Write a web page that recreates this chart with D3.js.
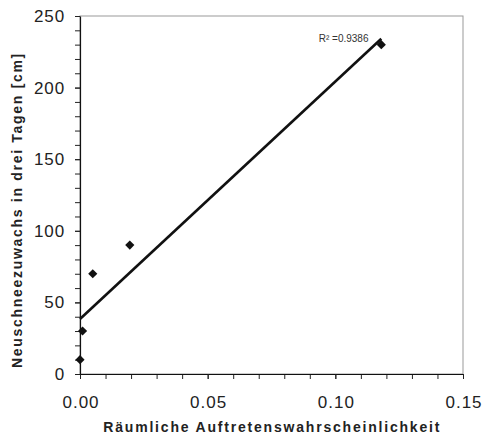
<!DOCTYPE html>
<html>
<head>
<meta charset="utf-8">
<script src="https://cdn.jsdelivr.net/npm/d3@7"></script>
<style>
  body { margin: 0; background: #fff; }
  svg { font-family: "Liberation Sans", Arial, sans-serif; }
</style>
</head>
<body>
<div id="chart"></div>
<script>
// data
const probability = [0.0, 0.001, 0.005, 0.0195, 0.118];
const snowGrowth = [10, 30, 70, 90, 230];
const xTicks = [0, 0.05, 0.10, 0.15];
const yTicks = [0, 50, 100, 150, 200, 250];
const rSquaredLabel = "R\u00B2 =0.9386";

const W = 487, H = 436;
const margin = { top: 16, right: 24, bottom: 62, left: 80 };
const width = W - margin.left - margin.right;
const height = H - margin.top - margin.bottom;

const svg = d3.select("#chart")
    .append("svg")
    .attr("width", W)
    .attr("height", H)
  .append("g")
    .attr("transform", `translate(${margin.left},${margin.top})`);

const x = d3.scaleLinear().domain([0, 0.15]).range([0, width]);
const y = d3.scaleLinear().domain([0, 250]).range([height, 0]);

// plot area frame (top/right gray)
svg.append("rect")
    .attr("x", 0).attr("y", 0)
    .attr("width", width).attr("height", height)
    .attr("fill", "none")
    .attr("stroke", "#999")
    .attr("stroke-width", 1);

// minor ticks
const xAxisMinor = svg.append("g")
    .attr("transform", `translate(0,${height})`)
    .call(d3.axisBottom(x).tickValues(d3.range(0, 0.1501, 0.01)).tickSize(5).tickFormat(""));
xAxisMinor.select(".domain").remove();

const yAxisMinor = svg.append("g")
    .call(d3.axisLeft(y).tickValues(d3.range(0, 251, 10)).tickSize(5).tickFormat(""));
yAxisMinor.select(".domain").remove();

// main axes
const xAxis = svg.append("g")
    .attr("transform", `translate(0,${height})`)
    .call(d3.axisBottom(x).tickValues(xTicks).tickSize(5).tickSizeOuter(0).tickFormat(d3.format(".2f")));
xAxis.selectAll("text")
    .attr("y", 34)
    .attr("dy", "0")
    .attr("dx", "0.5")
    .style("font-size", "17px")
    .style("letter-spacing", "1px")
    .attr("fill", "#222");

const yAxis = svg.append("g")
    .call(d3.axisLeft(y).tickValues(yTicks).tickSize(5).tickSizeOuter(0));
yAxis.selectAll("text")
    .attr("x", -15)
    .style("font-size", "17px")
    .style("letter-spacing", "0.9px")
    .attr("fill", "#222");

svg.selectAll(".domain").attr("stroke", "#111").attr("stroke-width", 1.2);
svg.selectAll(".tick line").attr("stroke", "#222");

// linear trend line (least squares)
const n = probability.length;
const mx = d3.mean(probability), my = d3.mean(snowGrowth);
let sxy = 0, sxx = 0;
for (let i = 0; i < n; i++) {
    sxy += (probability[i] - mx) * (snowGrowth[i] - my);
    sxx += (probability[i] - mx) ** 2;
}
const slope = sxy / sxx;
const intercept = my - slope * mx;
const trendX = [0, d3.max(probability)];

svg.append("path")
    .datum(trendX)
    .attr("d", d3.line().x(d => x(d)).y(d => y(intercept + slope * d)))
    .attr("stroke", "#111")
    .attr("stroke-width", 2.6)
    .attr("fill", "none");

// points (square diamonds)
svg.selectAll(".pt")
    .data(probability)
    .enter().append("path")
    .attr("class", "pt")
    .attr("transform", (d, i) => `translate(${x(d)},${y(snowGrowth[i])}) rotate(45)`)
    .attr("d", d3.symbol().type(d3.symbolSquare).size(42))
    .attr("fill", "#111");

svg.append("text")
    .attr("x", x(0.0935))
    .attr("y", y(232))
    .style("font-size", "10px")
    .attr("fill", "#333")
    .text(rSquaredLabel);

// axis titles
svg.append("text")
    .attr("x", x(0.0753))
    .attr("y", height + 58)
    .attr("text-anchor", "middle")
    .style("font-size", "14px")
    .style("font-weight", "bold")
    .style("letter-spacing", "1.8px")
    .attr("fill", "#222")
    .text("R\u00E4umliche Auftretenswahrscheinlichkeit");

svg.append("text")
    .attr("transform", "rotate(-90)")
    .attr("x", -(210 - margin.top))
    .attr("y", -58)
    .attr("text-anchor", "middle")
    .style("font-size", "14px")
    .style("font-weight", "bold")
    .style("letter-spacing", "1.7px")
    .attr("fill", "#222")
    .text("Neuschneezuwachs in drei Tagen [cm]");
</script>
</body>
</html>
